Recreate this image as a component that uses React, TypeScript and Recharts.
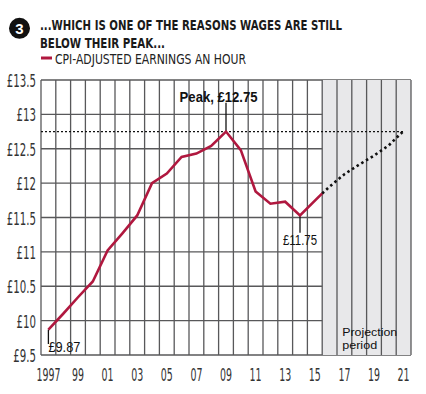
import {
  LineChart, Line, XAxis, YAxis, CartesianGrid,
  ReferenceArea, ReferenceLine, ReferenceDot,
} from "recharts";

const actualYears = [1997, 1998, 1999, 2000, 2001, 2002, 2003, 2004, 2005, 2006, 2007, 2008, 2009, 2010, 2011, 2012, 2013, 2014, 2015.5];
const actualValues = [9.87, 10.1, 10.34, 10.57, 11.02, 11.27, 11.53, 12.0, 12.14, 12.38, 12.43, 12.54, 12.75, 12.48, 11.88, 11.7, 11.73, 11.53, 11.85];

const projectionYears = [2015.5, 2016, 2017, 2018, 2019, 2020, 2021];
const projectionValues = [11.85, 11.95, 12.13, 12.27, 12.4, 12.55, 12.76];

const yTicks = [9.5, 10, 10.5, 11, 11.5, 12, 12.5, 13, 13.5];
const xTicks = [1997, 1999, 2001, 2003, 2005, 2007, 2009, 2011, 2013, 2015, 2017, 2019, 2021];
const xTickLabels = ["1997", "99", "01", "03", "05", "07", "09", "11", "13", "15", "17", "19", "21"];

// vertical grid lines sit between the years
const gridYears: number[] = [];
for (let g = 1996.5; g <= 2021.5; g += 1) gridYears.push(g);

const peakValue = 12.75;

const allYears = Array.from(new Set([...actualYears, ...projectionYears])).sort((a, b) => a - b);
const data = allYears.map((year) => {
  const ai = actualYears.indexOf(year);
  const pi = projectionYears.indexOf(year);
  return {
    year,
    actual: ai >= 0 ? actualValues[ai] : null,
    projection: pi >= 0 ? projectionValues[pi] : null,
  };
});

const narrow = "'Liberation Sans Narrow', 'DejaVu Sans Condensed', 'Liberation Sans', sans-serif";
const sans = "'Liberation Sans', Arial, sans-serif";
const GRID = "#58585a";
const RED = "#b0183f";

const YTick = ({ x, y, payload }: any) => (
  <g transform={`translate(${x},${y})`}>
    <text transform="scale(0.63,1)" textAnchor="end" dy={7} fontSize={18} fill="#333" fontFamily={narrow}>
      £{payload.value}
    </text>
  </g>
);

const XTick = ({ x, y, payload }: any) => (
  <g transform={`translate(${x},${y})`}>
    <text transform="scale(0.6,1)" textAnchor="middle" dy={24} fontSize={17.5} fill="#333" fontFamily={narrow}>
      {xTickLabels[xTicks.indexOf(payload.value)]}
    </text>
  </g>
);

const textShape = (label: string, opts: { size: number; bold?: boolean; len: number; anchor?: string }) =>
  (p: any) => (
    <text
      x={p.cx}
      y={p.cy}
      fontSize={opts.size}
      fontWeight={opts.bold ? "bold" : "normal"}
      fontFamily={sans}
      fill="#111"
      textAnchor={opts.anchor || "middle"}
      dominantBaseline="central"
      textLength={opts.len}
      lengthAdjust="spacingAndGlyphs"
    >
      {label}
    </text>
  );

export default function App() {
  return (
    <div style={{ position: "absolute", left: 0, top: 0, width: 426, height: 394, background: "#fff" }}>
      <div style={{ position: "absolute", left: 0, top: 0 }}>
        <LineChart width={426} height={394} data={data} margin={{ top: 80, right: 15, bottom: 0, left: 0 }}>
          <ReferenceArea x1={2015.5} x2={2021.5} y1={9.5} y2={13.5} fill="#e8e8ea" fillOpacity={1} stroke="none" />
          <CartesianGrid vertical={false} stroke={GRID} strokeWidth={1.3} />
          {gridYears.map((g) => (
            <ReferenceLine key={g} x={g} stroke={GRID} strokeWidth={1.3} />
          ))}
          <ReferenceLine
            segment={[{ x: 1996.5, y: peakValue }, { x: 2021, y: peakValue }]}
            stroke="#111" strokeWidth={1.3} strokeDasharray="2 2"
          />
          <XAxis
            dataKey="year" type="number" domain={[1996.5, 2021.5]} ticks={xTicks} interval={0}
            tick={<XTick />} axisLine={false} tickLine={false} tickSize={0} height={39} allowDataOverflow
          />
          <YAxis
            type="number" domain={[9.5, 13.5]} ticks={yTicks} interval={0} width={41}
            tick={<YTick />} axisLine={false} tickLine={false} tickSize={0} tickMargin={5}
          />
          <ReferenceLine segment={[{ x: 2009, y: 12.75 }, { x: 2009, y: 13.17 }]} stroke="#111" strokeWidth={1.3} />
          <ReferenceLine segment={[{ x: 2014, y: 11.53 }, { x: 2014, y: 11.28 }]} stroke="#111" strokeWidth={1.3} />
          <ReferenceLine segment={[{ x: 1997, y: 9.87 }, { x: 1997, y: 9.66 }]} stroke="#111" strokeWidth={1.3} />
          <Line dataKey="actual" stroke={RED} strokeWidth={2.6} dot={false} isAnimationActive={false} />
          <Line dataKey="projection" stroke="#111" strokeWidth={2.6} strokeDasharray="2.5 3" dot={false} isAnimationActive={false} />
          <ReferenceDot x={2008.5} y={13.25} r={0} shape={textShape("Peak, £12.75", { size: 14, bold: true, len: 78 })} />
          <ReferenceDot x={2014} y={11.17} r={0} shape={textShape("£11.75", { size: 14, len: 34 })} />
          <ReferenceDot x={1997} y={9.62} r={0} shape={textShape("£9.87", { size: 14, len: 32, anchor: "start" })} />
          <ReferenceDot x={2016.85} y={9.83} r={0} shape={textShape("Projection", { size: 11.5, len: 55, anchor: "start" })} />
          <ReferenceDot x={2016.85} y={9.64} r={0} shape={textShape("period", { size: 11.5, len: 35, anchor: "start" })} />
        </LineChart>
      </div>
      <svg width={426} height={394} style={{ position: "absolute", left: 0, top: 0, pointerEvents: "none" }}>
        <circle cx={19.5} cy={28.3} r={10.5} fill="#111" />
        <text x={19.5} y={33.5} fontSize={15} fontWeight="bold" fill="#fff" textAnchor="middle" fontFamily={sans}>3</text>
        <text x={40} y={29.5} fontSize={14.5} fontWeight="bold" fill="#1a1a1a" fontFamily={narrow}
          textLength={302} lengthAdjust="spacingAndGlyphs">...WHICH IS ONE OF THE REASONS WAGES ARE STILL</text>
        <text x={40} y={47.5} fontSize={14.5} fontWeight="bold" fill="#1a1a1a" fontFamily={narrow}
          textLength={125} lengthAdjust="spacingAndGlyphs">BELOW THEIR PEAK...</text>
        <line x1={41} x2={52} y1={58} y2={58} stroke={RED} strokeWidth={3} />
        <text x={55} y={63.5} fontSize={14.5} fill="#222" fontFamily={narrow}
          textLength={191} lengthAdjust="spacingAndGlyphs">CPI-ADJUSTED EARNINGS AN HOUR</text>
      </svg>
    </div>
  );
}
